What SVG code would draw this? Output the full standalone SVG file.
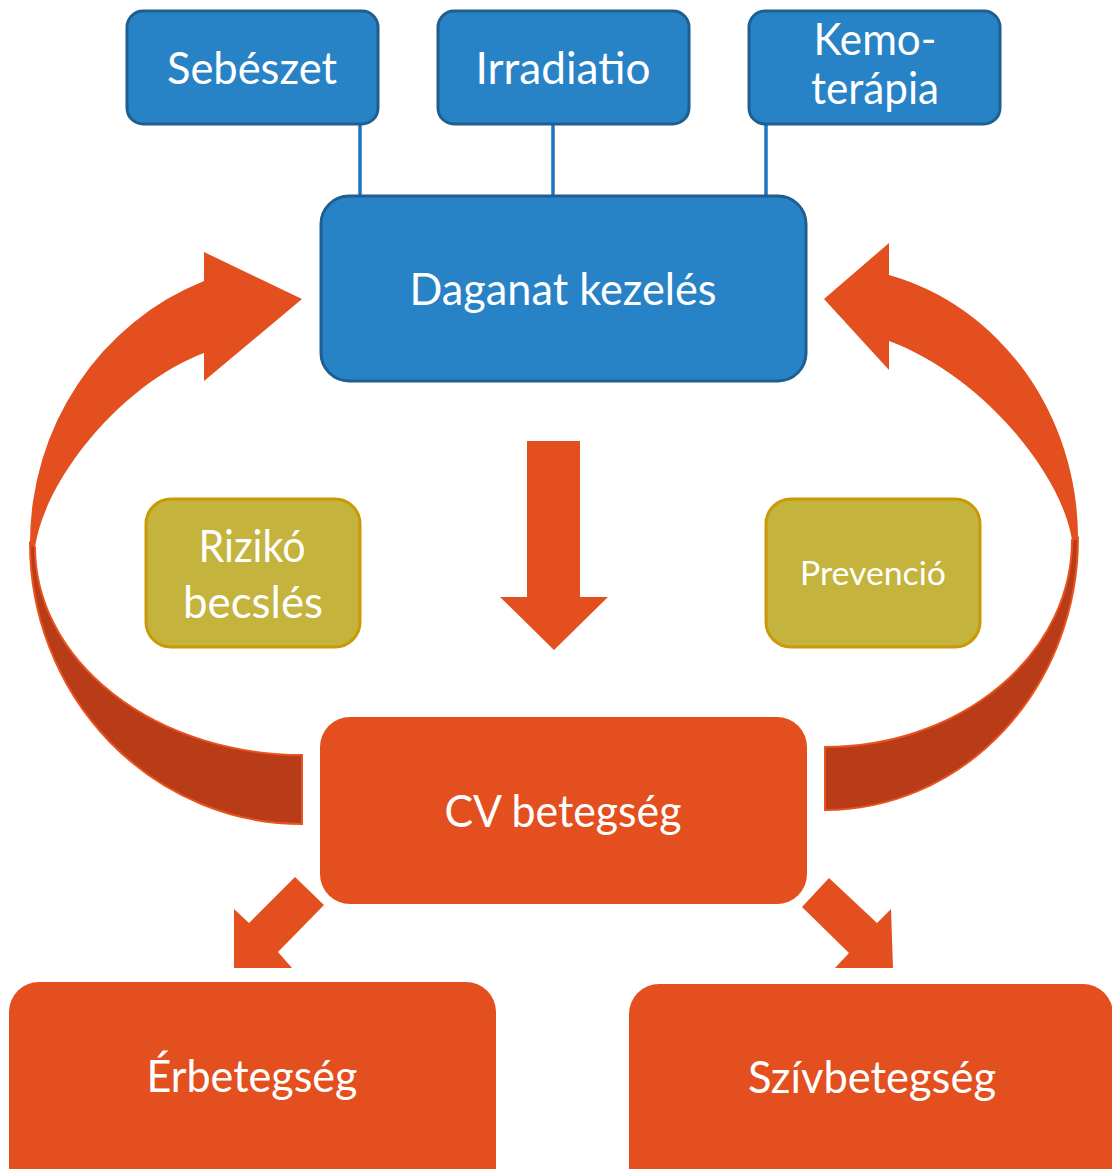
<svg xmlns="http://www.w3.org/2000/svg" width="1112" height="1169" viewBox="0 0 1112 1169">
  <style>
    .blue { fill: #2882c6; stroke: #1f5f90; stroke-width: 3; }
    .olive { fill: #c4b33d; stroke: #c99a06; stroke-width: 3; }
    .orange { fill: #e34f1e; }
    .back { fill: #b83c17; stroke: #e8531f; stroke-width: 2; }
    .link { stroke: #1c75c2; stroke-width: 3.5; fill: none; }
    .lbl { font-family: Lato, "Open Sans", "Liberation Sans", sans-serif; fill: #ffffff; text-anchor: middle; font-size: 44px; }
    .small { font-size: 33px; }
  </style>

  <!-- connectors: tree lines, curved loop arrows and block arrows -->
  <g id="connectors">
    <line class="link" x1="360" y1="124" x2="360" y2="196"/>
    <line class="link" x1="553" y1="124" x2="553" y2="196"/>
    <line class="link" x1="766" y1="124" x2="766" y2="196"/>

    <!-- left loop arrow: back (shaded) half, then front half with head -->
    <path class="back" d="M 30 543 A 272 281 0 0 0 302 824 L 302 755 A 267 208 0 0 1 35 547 Z"/>
    <path class="orange" d="M 204 281 A 272 281 0 0 0 30 543 L 35 547 C 45 480 120 385 204 353 L 204 381 L 302 299 L 204 252 Z"/>

    <!-- right loop arrow -->
    <path class="back" d="M 1078 538 A 253 272 0 0 1 825 810 L 825 747 A 247 206.5 0 0 0 1072 540 Z"/>
    <path class="orange" d="M 889 275 A 253 272 0 0 1 1078 538 L 1072 540 C 1061 471 979 374 889 341 L 889 370 L 824 299 L 889 243 Z"/>

    <!-- downward block arrow -->
    <polygon class="orange" points="527,441 580,441 580,597 608,597 554,650 500,597 527,597"/>

    <!-- diagonal block arrows to the two disease groups -->
    <polygon class="orange" points="295,877 324,905 278,952 292,968 234,968 234,909 249,923"/>
    <polygon class="orange" points="829,878 877,923 891,909 893,968 835,968 849,953 802,907"/>
  </g>

  <g id="sebeszet">
    <rect class="blue" x="127" y="11" width="251" height="113" rx="16"/>
    <text class="lbl" x="252" y="84" textLength="170" lengthAdjust="spacingAndGlyphs">Sebészet</text>
  </g>
  <g id="irradiatio">
    <rect class="blue" x="438" y="11" width="251" height="113" rx="16"/>
    <text class="lbl" x="563" y="84" textLength="175" lengthAdjust="spacingAndGlyphs">Irradiatio</text>
  </g>
  <g id="kemoterapia">
    <rect class="blue" x="749" y="11" width="251" height="113" rx="16"/>
    <text class="lbl" x="875" y="55" textLength="123" lengthAdjust="spacingAndGlyphs">Kemo-</text>
    <text class="lbl" x="875" y="104" textLength="128" lengthAdjust="spacingAndGlyphs">terápia</text>
  </g>

  <g id="daganat-kezeles">
    <rect class="blue" x="321" y="196" width="485" height="185" rx="28"/>
    <text class="lbl" x="563" y="305" textLength="307" lengthAdjust="spacingAndGlyphs">Daganat kezelés</text>
  </g>

  <g id="rizikobecsles">
    <rect class="olive" x="146" y="499" width="214" height="148" rx="25"/>
    <text class="lbl" x="252" y="562" textLength="107" lengthAdjust="spacingAndGlyphs">Rizikó</text>
    <text class="lbl" x="253" y="618" textLength="140" lengthAdjust="spacingAndGlyphs">becslés</text>
  </g>

  <g id="prevencio">
    <rect class="olive" x="766" y="499" width="214" height="148" rx="25"/>
    <text class="lbl small" x="873" y="585" textLength="146" lengthAdjust="spacingAndGlyphs">Prevenció</text>
  </g>

  <g id="cv-betegseg">
    <rect class="orange" x="320" y="717" width="487" height="187" rx="30"/>
    <text class="lbl" x="563" y="827" textLength="237" lengthAdjust="spacingAndGlyphs">CV betegség</text>
  </g>

  <g id="erbetegseg">
    <rect class="orange" x="9" y="982" width="487" height="220" rx="30"/>
    <text class="lbl" x="252" y="1092" textLength="211" lengthAdjust="spacingAndGlyphs">Érbetegség</text>
  </g>

  <g id="szivbetegseg">
    <rect class="orange" x="629" y="984" width="484" height="220" rx="30"/>
    <text class="lbl" x="872" y="1093" textLength="248" lengthAdjust="spacingAndGlyphs">Szívbetegség</text>
  </g>
</svg>
